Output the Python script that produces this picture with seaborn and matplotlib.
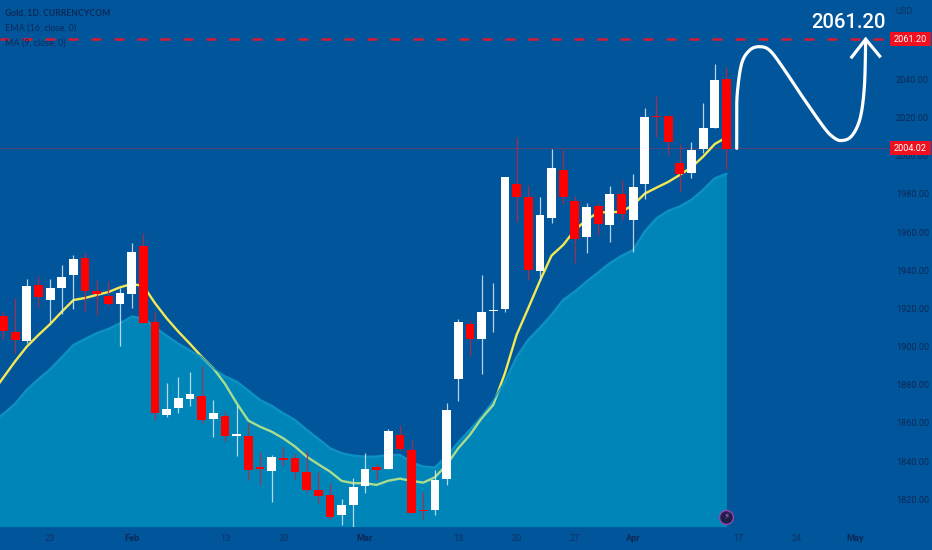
import numpy as np
import pandas as pd
import seaborn as sns
import matplotlib
matplotlib.use("Agg")
import matplotlib.pyplot as plt
from matplotlib.patches import Polygon, Rectangle
from matplotlib.transforms import blended_transform_factory

BG = "#01559b"
AREA = "#0085b8"
AREA_EDGE = "#0d90c2"
DARK = "#0c2a58"
RED = "#ff0000"

opens = [1915.9,1907.7,1903.0,1932.1,1924.3,1930.9,1937.4,1946.3,1929.0,1926.4,1922.2,1927.8,1952.9,1912.9,1864.0,1867.7,1872.7,1874.1,1861.9,1863.5,1853.3,1853.0,1836.2,1835.0,1840.9,1841.8,
         1834.5,1824.9,1822.2,1811.6,1816.8,1827.0,1837.1,1836.0,1853.5,1845.6,1814.0,1814.2,1830.6,1882.9,1911.7,1903.8,1918.7,1919.6,
         1985.4,1978.4,1939.5,1967.6,1992.8,1976.2,1957.3,1973.7,1963.8,1979.8,1966.4,1985.4,2020.5,2020.9,1996.1,1991.0,2003.4,2014.4,2040.1]
closes = [1908.0,1903.3,1931.8,1925.8,1930.5,1936.7,1945.8,1929.0,1927.4,1922.3,1927.9,1949.6,1912.2,1865.0,1867.1,1873.2,1875.0,1861.5,1865.0,1853.2,1853.7,1835.3,1836.0,1842.0,1840.8,1834.5,
          1824.9,1821.9,1810.5,1816.8,1826.4,1835.9,1835.3,1856.0,1846.2,1812.8,1813.9,1830.1,1866.8,1912.7,1903.8,1918.0,1918.8,1988.7,
          1978.3,1940.2,1969.2,1993.5,1978.3,1956.2,1973.0,1964.1,1979.8,1969.3,1983.8,2020.2,2020.4,2007.1,1990.6,2003.2,2014.4,2039.8,2003.8]
highs = [1918.3,1925.3,1935.3,1937.0,1935.3,1942.6,1947.9,1949.2,1934.9,1934.4,1930.5,1954.5,1959.4,1918.3,1881.1,1884.1,1886.7,1890.0,1872.0,1865.9,1869.4,1859.8,1845.0,1843.2,1847.2,1843.7,
         1845.3,1834.5,1828.4,1820.0,1831.0,1844.1,1838.3,1856.7,1858.9,1851.1,1824.0,1835.3,1870.3,1914.3,1913.6,1937.5,1933.5,1988.7,
         2009.7,1984.7,1978.6,2003.4,2003.4,1979.0,1975.1,1975.1,1984.2,1987.3,1990.3,2024.9,2031.4,2020.9,2006.0,2007.4,2027.9,2048.1,2046.7]
lows = [1903.8,1896.8,1901.7,1920.6,1913.1,1917.1,1919.5,1918.8,1916.6,1921.3,1900.5,1920.4,1912.2,1861.5,1863.0,1865.0,1868.9,1859.8,1852.5,1850.7,1842.7,1830.1,1827.5,1818.8,1837.4,1830.4,
        1823.6,1817.9,1809.5,1806.5,1805.6,1823.1,1830.1,1836.0,1845.8,1812.6,1809.5,1811.8,1827.7,1871.7,1895.1,1885.5,1907.5,1918.3,
        1965.5,1934.9,1934.9,1964.6,1974.8,1944.0,1948.9,1958.5,1955.0,1966.4,1949.8,1977.2,2009.7,2000.4,1981.2,1988.6,2001.3,2014.4,1992.9]

# first value of each average belongs to the session before the left edge
ma9 = [1875.5,1883.9,1892.3,1900.0,1906.1,1911.8,1918.3,1924.4,1925.5,1927.1,1928.6,1931.1,1932.8,1931.8,1922.7,1914.8,1907.8,1901.4,1894.7,1888.6,1880.4,1870.3,1861.2,1858.0,1855.4,1851.9,1847.6,
       1842.3,1838.3,1834.5,1829.6,1828.4,1828.4,1827.5,1829.7,1830.8,1829.6,1828.7,1831.5,1838.0,1846.7,1853.7,1862.4,1869.4,1886.0,1906.1,
       1920.1,1934.4,1947.7,1953.3,1961.1,1966.4,1970.4,1970.4,1970.7,1974.2,1980.2,1983.3,1986.3,1990.0,1994.0,1999.6,2006.2,2009.7]
ema16 = [1860.7,1864.7,1870.0,1877.3,1882.9,1888.0,1894.4,1900.8,1904.0,1907.0,1909.2,1912.2,1915.7,1914.8,1910.0,1905.6,1901.4,1897.9,1894.2,1888.3,1884.3,1881.6,1876.9,1872.0,1868.9,1865.0,1861.5,
         1856.3,1851.6,1846.7,1844.1,1842.8,1842.3,1842.3,1843.2,1843.2,1839.2,1837.1,1836.6,1842.3,1849.8,1856.3,1863.3,1871.2,1881.6,1894.4,
         1903.5,1909.8,1916.6,1924.4,1928.8,1934.0,1938.8,1943.7,1947.5,1950.6,1960.3,1967.2,1971.1,1973.4,1976.9,1982.1,1988.2,1990.5]

x_tick_days = [4, 11, 19, 24, 31, 39, 44, 49, 54, 63, 68, 73]
x_tick_labels = ["23", "Feb", "13", "20", "Mar", "13", "20", "27", "Apr", "17", "24", "May"]
bold_labels = ["Feb", "Mar", "Apr", "May"]
y_ticks = [1820, 1840, 1860, 1880, 1900, 1920, 1940, 1960, 1980, 2000, 2020, 2040]
target_price = 2061.20
last_price = 2004.02

sketch_day = [62.88,62.88,62.93,63.31,64.02,64.88,65.74,66.88,68.31,70.31,71.17,71.88,72.74,73.46,73.83,73.94]
sketch_price = [2003.9,2018.8,2032.8,2048.5,2055.5,2057.2,2055.1,2045.9,2032.8,2015.3,2009.7,2008.0,2010.4,2019.6,2036.3,2061.1]
head_day = [72.66, 73.94, 75.23]
head_price = [2051.1, 2061.1, 2051.6]

sns.set_theme(style="white", rc={"axes.facecolor": BG, "figure.facecolor": BG, "axes.grid": False})
TICKFONT = "Roboto"

fig = plt.figure(figsize=(9.32, 5.5), dpi=100, facecolor=BG)
ax = fig.add_axes([0, 23.3 / 550, 889 / 932, 526.7 / 550])
ax.set_facecolor(BG)
ax.set_xlim(-0.3, 75.94)
ax.set_ylim(1805.6, 2081.67)
for s in ax.spines.values():
    s.set_visible(False)

days = np.arange(len(opens))
avg_days = np.arange(-1, len(opens))
df = pd.DataFrame({"day": avg_days, "ma": ma9, "ema": ema16})
floor = ax.get_ylim()[0]

# moving average under the area
sns.lineplot(data=df, x="day", y="ma", ax=ax, color="#f2ea55", lw=1.7, zorder=2, legend=False, errorbar=None)
ax.fill_between(df["day"], df["ema"], floor, color=AREA, lw=0, zorder=2.1)
sns.lineplot(data=df, x="day", y="ema", ax=ax, color=AREA_EDGE, lw=1.8, zorder=2.2, legend=False, errorbar=None)
poly = Polygon(np.column_stack([np.r_[df["day"], df["day"].iloc[-1], df["day"].iloc[0]],
                                np.r_[df["ema"], floor, floor]]), transform=ax.transData,
               fc="none", ec="none")
ax.add_patch(poly)
over, = ax.plot(df["day"], df["ma"], color="#a9dc8c", lw=1.7, zorder=2.3)
over.set_clip_path(poly)

# candles
up = np.array(closes) >= np.array(opens)
body_lo = np.minimum(opens, closes)
body_h = np.maximum(np.abs(np.array(closes) - np.array(opens)), 0.7)
ax.vlines(days[up], np.array(lows)[up], np.array(highs)[up], color="#d6e9f6", alpha=0.85, lw=0.9, zorder=3)
ax.vlines(days[~up], np.array(lows)[~up], np.array(highs)[~up], color="#b52a45", alpha=0.9, lw=0.9, zorder=3)
ax.bar(days[up], body_h[up], bottom=body_lo[up], width=0.75, color="white", lw=0, zorder=4)
ax.bar(days[~up], body_h[~up], bottom=body_lo[~up], width=0.75, color=RED, lw=0, zorder=4)

# price lines
ax.axhline(target_price, color="#d81a32", lw=1.8, ls=(0.4, (4.0, 5.2)), zorder=5)
ax.axhline(last_price, color="#7c3a68", lw=0.6, alpha=0.8, zorder=1.9)

# hand-drawn sketch
def smooth(px, py, n=24):
    p = np.column_stack([px, py])
    p = np.vstack([p[0], p, p[-1]])
    out = []
    for i in range(1, len(p) - 2):
        t = np.linspace(0, 1, n)[:, None]
        a, b, c, d = p[i - 1], p[i], p[i + 1], p[i + 2]
        out.append(0.5 * (2 * b + (c - a) * t + (2 * a - 5 * b + 4 * c - d) * t ** 2 + (3 * b - a - 3 * c + d) * t ** 3))
    return np.vstack(out)

curve = smooth(sketch_day, sketch_price)
ax.plot(curve[:, 0], curve[:, 1], color="white", lw=2.3, solid_capstyle="round", zorder=6)
ax.plot(head_day, head_price, color="white", lw=2.3, solid_joinstyle="miter", solid_capstyle="butt", zorder=6)
ax.text(848 / 889, 1 - 23 / 526.7, f"{target_price:.2f}", transform=ax.transAxes, color="white",
        fontsize=14.6, family="Roboto", weight="medium", ha="center", va="center", zorder=7)

# axes labels
ax.yaxis.tick_right()
ax.set_yticks(y_ticks)
ax.set_yticklabels([f"{v:.2f}" for v in y_ticks], family=TICKFONT, fontsize=6.6, color=DARK)
ax.set_xticks(x_tick_days)
ax.set_xticklabels(x_tick_labels, family=TICKFONT, fontsize=6.6, color="#0f3266")
for lab in ax.get_xticklabels():
    if lab.get_text() in bold_labels:
        lab.set_fontweight("bold")
        lab.set_color(DARK)
ax.tick_params(axis="y", length=0, pad=5, colors=DARK)
ax.tick_params(axis="x", length=0, pad=5)
ax.set_xlabel("")
ax.set_ylabel("")
fig.text(904 / 932, 1 - 11 / 550, "USD", family=TICKFONT, fontsize=6.6, color="#0f3266", ha="center", va="center")

# price tags
tag_trans = blended_transform_factory(fig.transFigure, ax.transData)
for price in (target_price, last_price):
    ax.add_patch(Rectangle((890 / 932, price - 3.67), 41 / 932, 7.34, transform=tag_trans,
                           fc="#f01020", ec="none", zorder=8, clip_on=False))
    ax.text(910.5 / 932, price, f"{price:.2f}", transform=tag_trans, ha="center", va="center",
            color="white", family=TICKFONT, fontsize=6.6, zorder=9, clip_on=False)

# header
fig.text(5 / 932, 1 - 13 / 550, "Gold, 1D, CURRENCYCOM", family="Lato", fontsize=6.2, weight="bold", color=DARK, va="center")
fig.text(5 / 932, 1 - 28 / 550, "EMA (16, close, 0)", family="Lato", fontsize=6.5, color=DARK, va="center")
fig.text(5 / 932, 1 - 43 / 550, "MA (9, close, 0)", family="Lato", fontsize=6.5, color=DARK, va="center")

# event badge
ax.scatter([61.97], [1810.9], s=100, marker="o", fc="#1d1f45", ec="#9a45b5", lw=1.0, zorder=9, clip_on=False)
ax.text(61.97, 1810.9, "\u26a1", family="DejaVu Sans", fontsize=6.5, color="#c060d8", ha="center", va="center", zorder=10)

fig.savefig("out.png", dpi=100, facecolor=BG)
